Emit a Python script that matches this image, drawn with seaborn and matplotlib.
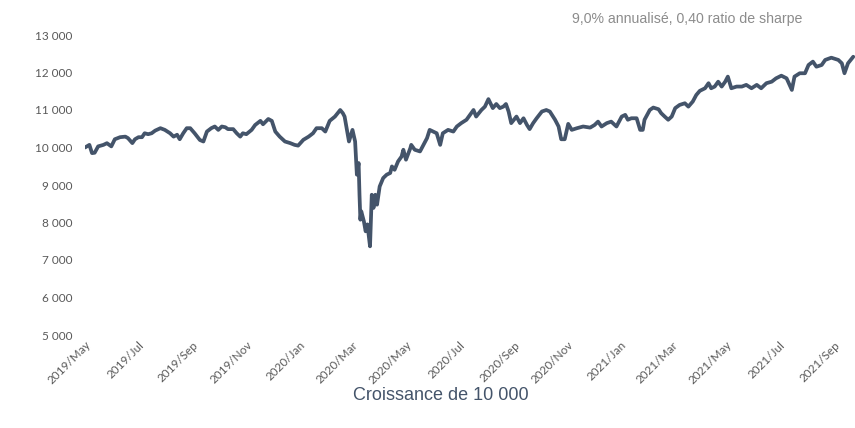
import pandas as pd
import matplotlib
matplotlib.use("Agg")
import matplotlib.pyplot as plt
import matplotlib.dates as mdates
from matplotlib.ticker import FuncFormatter
import seaborn as sns

# Growth of 10 000
dates = [
    "2019-05-01", "2019-05-06", "2019-05-09", "2019-05-12", "2019-05-16", "2019-05-22", "2019-05-26", "2019-05-31",
    "2019-06-04", "2019-06-10", "2019-06-16", "2019-06-19", "2019-06-24", "2019-06-27", "2019-07-01", "2019-07-05",
    "2019-07-08", "2019-07-12", "2019-07-16", "2019-07-20", "2019-07-26", "2019-07-31", "2019-08-06", "2019-08-10",
    "2019-08-14", "2019-08-17", "2019-08-21", "2019-08-25", "2019-08-29", "2019-09-03", "2019-09-09", "2019-09-13",
    "2019-09-17", "2019-09-22", "2019-09-26", "2019-09-30", "2019-10-04", "2019-10-08", "2019-10-11", "2019-10-17",
    "2019-10-21", "2019-10-25", "2019-10-28", "2019-11-01", "2019-11-07", "2019-11-11", "2019-11-17", "2019-11-20",
    "2019-11-26", "2019-11-30", "2019-12-04", "2019-12-09", "2019-12-15", "2019-12-21", "2019-12-26", "2019-12-30",
    "2020-01-05", "2020-01-11", "2020-01-16", "2020-01-20", "2020-01-26", "2020-01-30", "2020-02-04", "2020-02-10",
    "2020-02-16", "2020-02-19", "2020-02-21", "2020-02-23", "2020-02-26", "2020-03-01", "2020-03-04", "2020-03-06",
    "2020-03-08", "2020-03-09", "2020-03-10", "2020-03-11", "2020-03-14", "2020-03-16", "2020-03-18", "2020-03-21",
    "2020-03-23", "2020-03-25", "2020-03-27", "2020-03-29", "2020-04-01", "2020-04-05", "2020-04-09", "2020-04-13",
    "2020-04-15", "2020-04-18", "2020-04-22", "2020-04-26", "2020-04-28", "2020-05-01", "2020-05-06", "2020-05-07",
    "2020-05-11", "2020-05-17", "2020-05-21", "2020-05-25", "2020-05-28", "2020-06-01", "2020-06-05", "2020-06-09",
    "2020-06-12", "2020-06-18", "2020-06-24", "2020-06-28", "2020-07-03", "2020-07-09", "2020-07-13", "2020-07-17",
    "2020-07-20", "2020-07-26", "2020-07-30", "2020-08-03", "2020-08-08", "2020-08-12", "2020-08-16", "2020-08-20",
    "2020-08-23", "2020-08-26", "2020-08-29", "2020-09-04", "2020-09-08", "2020-09-12", "2020-09-16", "2020-09-19",
    "2020-09-23", "2020-09-27", "2020-10-03", "2020-10-08", "2020-10-12", "2020-10-18", "2020-10-22", "2020-10-25",
    "2020-10-29", "2020-11-02", "2020-11-06", "2020-11-12", "2020-11-19", "2020-11-27", "2020-12-02", "2020-12-06",
    "2020-12-10", "2020-12-16", "2020-12-21", "2020-12-27", "2021-01-02", "2021-01-06", "2021-01-09", "2021-01-13",
    "2021-01-19", "2021-01-23", "2021-01-26", "2021-01-28", "2021-02-03", "2021-02-07", "2021-02-13", "2021-02-16",
    "2021-02-20", "2021-02-24", "2021-02-28", "2021-03-04", "2021-03-09", "2021-03-15", "2021-03-19", "2021-03-24",
    "2021-03-28", "2021-04-01", "2021-04-07", "2021-04-11", "2021-04-14", "2021-04-18", "2021-04-22", "2021-04-26",
    "2021-04-30", "2021-05-03", "2021-05-07", "2021-05-13", "2021-05-19", "2021-05-24", "2021-05-30", "2021-06-05",
    "2021-06-10", "2021-06-16", "2021-06-22", "2021-06-27", "2021-07-03", "2021-07-09", "2021-07-15", "2021-07-18",
    "2021-07-24", "2021-07-30", "2021-08-03", "2021-08-08", "2021-08-12", "2021-08-18", "2021-08-22", "2021-08-29",
    "2021-09-06", "2021-09-10", "2021-09-13", "2021-09-17", "2021-09-23",
]
values = [
    10000, 10070, 9850, 9860, 10030, 10070, 10115, 10030,
    10220, 10275, 10290, 10250, 10117, 10220, 10275, 10275,
    10380, 10355, 10380, 10450, 10515, 10470, 10380, 10290,
    10340, 10220, 10380, 10515, 10515, 10380, 10200, 10160,
    10425, 10515, 10560, 10470, 10560, 10540, 10490, 10490,
    10380, 10290, 10380, 10355, 10470, 10600, 10710, 10620,
    10760, 10710, 10425, 10290, 10160, 10117, 10070, 10050,
    10205, 10290, 10380, 10515, 10515, 10425, 10710, 10825,
    11000, 10915, 10825, 10560, 10160, 10470, 10160, 9275,
    9585, 8740, 8075, 8300, 8030, 7765, 7950, 7365,
    8740, 8390, 8740, 8475, 8960, 9185, 9275, 9320,
    9495, 9405, 9630, 9760, 9940, 9675, 9985, 10070,
    9940, 9895, 10070, 10250, 10470, 10425, 10380, 10070,
    10380, 10470, 10425, 10560, 10650, 10740, 10870, 11000,
    10825, 11000, 11090, 11290, 11050, 11160, 11050, 11090,
    11160, 10960, 10650, 10825, 10650, 10780, 10600, 10490,
    10650, 10780, 10960, 11000, 10960, 10740, 10560, 10220,
    10220, 10630, 10470, 10515, 10560, 10530, 10600, 10690,
    10560, 10650, 10690, 10560, 10825, 10870, 10740, 10780,
    10780, 10470, 10470, 10740, 11000, 11065, 11020, 10915,
    10825, 10740, 10825, 11050, 11135, 11180, 11090, 11225,
    11400, 11510, 11580, 11715, 11580, 11625, 11755, 11625,
    11755, 11890, 11580, 11625, 11625, 11670, 11580, 11670,
    11580, 11715, 11755, 11845, 11915, 11845, 11535, 11890,
    11980, 11980, 12200, 12290, 12155, 12200, 12335, 12395,
    12335, 12245, 11980, 12245, 12420,
]
y_ticks = [5000, 6000, 7000, 8000, 9000, 10000, 11000, 12000, 13000]
title = "Croissance de 10 000"
note = "9,0% annualisé, 0,40 ratio de sharpe"

df = pd.DataFrame({"date": pd.to_datetime(dates), "valeur": values})

sns.set_style("white")
plt.rcParams['font.family'] = ['Lato', 'DejaVu Sans']

fig = plt.figure(figsize=(8.55, 4.28), dpi=100)
ax = fig.add_axes([85 / 855, 93 / 428, 770 / 855, 300 / 428])
sns.lineplot(data=df, x="date", y="valeur", color="#44546A", linewidth=2.7, ax=ax)

ax.set_xlim(pd.Timestamp("2019-05-01"), pd.Timestamp("2021-09-25"))
ax.set_ylim(5000, 13000)
ax.set_yticks(y_ticks)
ax.yaxis.set_major_formatter(FuncFormatter(lambda v, p: f"{int(v):,}".replace(",", " ")))
ax.xaxis.set_major_locator(mdates.MonthLocator(bymonth=[1, 3, 5, 7, 9, 11]))
ax.xaxis.set_major_formatter(mdates.DateFormatter("%Y/%b"))
ax.tick_params(axis="both", length=0, labelsize=8.5, colors="#595959")
ax.tick_params(axis="y", pad=9)
ax.tick_params(axis="x", pad=3)
for lbl in ax.get_xticklabels():
    lbl.set_rotation(45)
    lbl.set_ha("right")
    lbl.set_rotation_mode("anchor")
ax.set_xlabel("")
ax.set_ylabel("")
for s in ax.spines.values():
    s.set_visible(False)

fig.text(441 / 855, 1 - 396 / 428, title, ha="center", va="center",
         fontsize=13, color="#44546A", family=["Liberation Sans", "DejaVu Sans"])
fig.text(802 / 855, 1 - 19 / 428, note, ha="right", va="center",
         fontsize=10.2, color="#8C8C8C", family=["Liberation Sans", "DejaVu Sans"])

fig.savefig("out.png", dpi=100)
